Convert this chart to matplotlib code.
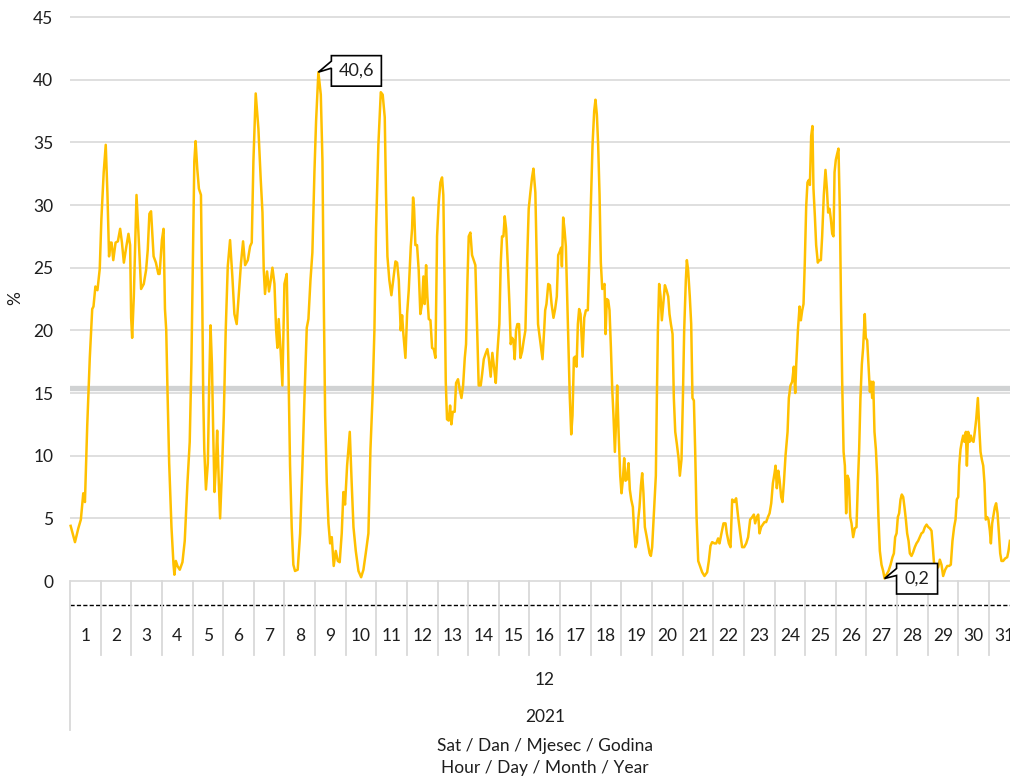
import matplotlib.pyplot as plt
from matplotlib.patches import Polygon
from matplotlib.transforms import IdentityTransform

plt.rcParams['font.family'] = ['Lato', 'DejaVu Sans']

# December 2021, hourly, x = hour of month (0..744), y = %
days = list(range(1, 32))
month = '12'
year = '2021'
axis_title_1 = 'Sat / Dan / Mjesec / Godina'
axis_title_2 = 'Hour / Day / Month / Year'
mean_pct = 15.4
max_point = (194.6, 40.6, '40,6')
min_point = (638.2, 0.2, '0,2')

hours_a = [0.5, 3.9, 6.5, 8.5, 10.4, 11.7, 13.5, 15.5, 17.4, 18.4,
           19.9, 21.5, 23.3, 24.6, 26.4, 28, 29.3, 30.6, 31.6, 32.6,
           33.9, 35.7, 37.5, 39.3, 40.7, 42.2, 44, 45.8, 47.1, 47.9,
           48.7, 50, 52.1, 53.6, 55.7, 57.8, 59.6, 60.9, 62.2, 63.5,
           65.5, 67.3, 69.2, 70.2, 72, 73.3, 74.4, 75.4, 76.4, 77.7,
           79.5, 81.1, 81.8, 82.9, 84.2, 86, 88.1, 89.9, 92, 93.8,
           95.1, 96.4, 97.4, 98.4, 99.7, 101, 102.6, 103.6, 104.4, 105.2,
           106.5, 108, 109.1, 110.1, 111.2, 112.2, 113.2, 114.3, 115.3, 116.6,
           117.6, 119.2, 120.5, 122]
pct_a = [4.4, 3.1, 4.2, 4.9, 7.0, 6.3, 12.4, 17.8, 21.7, 21.9,
         23.5, 23.2, 24.9, 28.9, 32.6, 34.8, 31.0, 25.9, 27.0, 27.0,
         25.6, 27.0, 27.1, 28.1, 27.0, 25.4, 26.6, 27.7, 26.8, 21.0,
         19.4, 22.7, 30.8, 27.8, 23.3, 23.7, 24.8, 26.4, 29.3, 29.5,
         25.9, 25.4, 24.5, 24.5, 27.2, 28.1, 21.7, 20.0, 15.1, 9.4,
         4.3, 1.3, 0.5, 1.6, 1.2, 0.9, 1.5, 3.2, 7.8, 11.1,
         17.3, 26.4, 33.5, 35.1, 32.9, 31.3, 30.8, 22.7, 14.6, 10.5,
         7.3, 9.4, 15.9, 20.4, 17.3, 11.9, 7.1, 9.2, 12.0, 7.8,
         5.0, 9.2, 13.2, 20.0]

hours_b = [123.6, 125.4, 127.2, 128.8, 130.6, 132.5, 134, 135.6, 137.2, 139.3,
           141.1, 142.4, 143.7, 145.5, 147.6, 149.4, 150.8, 151.8, 152.8, 154.4,
           155.9, 157.3, 158.6, 160.2, 161.5, 162.5, 163.5, 164.9, 166.4, 168,
           169.8, 171.1, 172.4, 173.7, 175, 176.3, 178.4, 180.3, 182.1, 183.7,
           185.5, 186.8, 188.4, 189.9, 191.5, 192.8, 194.6, 196.5, 197.8, 198.8,
           199.9, 201.2, 202.5, 203.8, 205.1, 206.6, 208.2, 209.8, 211.3, 212.9,
           214.2, 215.5, 217.1, 219.2, 220.7, 222.1, 223.9, 226, 228.1, 229.9,
           231.7, 233.8, 235.4, 237, 238.5, 239.8, 241.6, 243.5]
pct_b = [25.1, 27.2, 24.3, 21.3, 20.5, 23.2, 25.4, 27.1, 25.2, 25.6,
         26.7, 27.0, 33.5, 38.9, 36.1, 32.1, 29.4, 24.8, 22.9, 24.7,
         23.1, 24.0, 25.0, 23.7, 20.0, 18.6, 20.9, 18.6, 15.6, 23.7,
         24.5, 17.3, 9.2, 4.3, 1.3, 0.8, 0.9, 3.8, 9.2, 14.6,
         20.2, 20.9, 24.0, 26.2, 32.6, 36.7, 40.6, 38.8, 33.5, 22.7,
         13.2, 7.8, 4.6, 3.0, 3.5, 1.2, 2.4, 1.6, 1.5, 3.8,
         7.1, 6.1, 9.2, 11.9, 7.8, 4.3, 2.4, 0.8, 0.3, 0.9,
         2.2, 3.8, 10.5, 14.6, 20.0, 28.1, 34.8, 39.0]

hours_c = [245, 246.6, 247.6, 248.7, 250.2, 251.8, 253.6, 255, 256.3, 257.6,
           259.1, 260.2, 261.2, 262.8, 264.1, 265.4, 267, 268, 268.8, 269.6,
           270.6, 271.9, 273.2, 274.5, 275.8, 276.9, 277.9, 279, 280, 281.1,
           282.4, 283.7, 285, 286.3, 287.6, 288.9, 290.2, 291.5, 292.5, 293.6,
           294.4, 295.4, 296.7, 297.8, 298.8, 299.9, 301.4, 302.5, 304, 305.1,
           306.7, 308, 309.3, 310.3, 311.4, 312.4, 313.7, 315, 316.3, 317.6,
           319, 320.2, 321.8, 322.9, 324.2, 325.5, 327, 328.1, 329.6, 330.9,
           332.3, 333.6, 334.9, 336.4, 337.5, 338.5, 339.6, 340.6, 341.7, 343.2,
           344.3, 345.3, 346.4, 347.4, 348.4, 349.5, 350.5, 351.8, 352.9, 354.2,
           355.5, 356.8, 358.1, 359.4, 360.7, 362, 363.1, 364.6, 365.7, 366.7,
           368.3]
pct_c = [38.8, 37.0, 30.8, 25.9, 24.0, 22.8, 24.3, 25.5, 25.4, 24.0,
         20.0, 21.2, 19.7, 17.8, 21.3, 23.2, 26.7, 28.1, 30.6, 29.7,
         26.8, 26.8, 24.8, 21.3, 22.1, 24.3, 22.1, 25.2, 22.7, 20.9,
         20.8, 18.6, 18.5, 17.8, 27.5, 30.2, 31.8, 32.2, 30.8, 22.7,
         15.9, 12.9, 12.8, 14.0, 12.5, 13.5, 13.5, 15.8, 16.1, 15.4,
         14.6, 15.6, 17.8, 18.9, 24.0, 27.5, 27.8, 26.0, 25.6, 25.2,
         20.0, 15.6, 15.6, 16.5, 17.7, 18.1, 18.5, 17.8, 16.3, 18.2,
         17.0, 15.8, 18.3, 20.5, 25.4, 27.5, 27.5, 29.1, 28.1, 24.8,
         22.1, 18.9, 19.4, 19.2, 17.7, 20.0, 20.5, 20.5, 17.8, 18.3,
         19.2, 20.0, 25.4, 29.7, 31.0, 32.2, 32.9, 31.0, 25.4, 20.5,
         19.2]

hours_d = [370.2, 371.5, 372.3, 373.3, 374.7, 376, 377.3, 378.8, 380.1, 381.4,
           382.5, 383.8, 384.8, 385.4, 386.4, 387.4, 388.5, 389.5, 390.6, 391.6,
           392.7, 393.7, 394.8, 395.8, 396.9, 397.9, 398.9, 400, 401.6, 402.9,
           404.2, 405.7, 406.8, 408.1, 409.4, 410.7, 411.7, 412.8, 413.8, 414.9,
           415.9, 417, 418, 418.8, 419.6, 420.6, 421.7, 422.7, 423.8, 424.8,
           425.8, 426.9, 427.9, 428.7, 429.8, 431.1, 432.1, 433.2, 434.2, 435.2,
           436.3, 437.6, 438.6, 439.7, 441, 442, 443.1, 444.1, 445.2, 446.2,
           447.3, 448.3, 449.3, 450.4, 451.7, 452.7, 454.1, 455.1, 456.1, 456.9,
           458, 459, 459.8, 460.6, 461.6, 462.7, 463.7, 464.8, 466.1, 467.4,
           468.7, 469.7, 470.8, 472.1, 473.1, 474.2, 475.5, 476.8, 477.8, 479.1,
           480.2, 481.2, 482.5, 483.3, 484.3, 485.6, 486.7, 487.7, 488.8, 489.8,
           490.9, 492.2]
pct_d = [17.7, 20.0, 21.6, 22.1, 23.7, 23.6, 22.1, 21.0, 21.7, 22.7,
         26.0, 26.3, 26.6, 25.1, 29.0, 28.1, 26.7, 22.7, 18.6, 14.6,
         11.7, 13.2, 17.8, 17.9, 17.1, 20.5, 21.7, 21.3, 17.9, 21.0,
         21.6, 21.6, 25.4, 30.2, 34.8, 37.5, 38.4, 37.2, 34.8, 30.8,
         25.4, 23.3, 23.5, 23.7, 19.7, 22.5, 22.4, 21.6, 18.6, 15.4,
         13.2, 10.3, 12.9, 15.6, 11.9, 8.4, 7.0, 8.1, 9.8, 8.0,
         8.1, 9.4, 7.3, 6.5, 5.9, 4.0, 2.7, 3.1, 4.9, 5.9,
         7.6, 8.6, 7.0, 4.3, 3.6, 3.0, 2.2, 2.0, 2.7, 4.3,
         6.5, 8.4, 14.6, 20.0, 23.7, 22.7, 20.8, 22.1, 23.6, 23.2,
         22.7, 21.3, 20.5, 19.7, 14.6, 11.9, 10.9, 9.8, 8.4, 9.7,
         14.6, 20.0, 24.0, 25.6, 24.8, 22.7, 20.5, 14.6, 14.4, 10.5,
         5.1, 1.6]

hours_e = [495.3, 497.1, 499.2, 500.5, 501.8, 503.1, 505, 506.3, 507.8, 508.9,
           510.4, 512, 513.6, 514.6, 516.2, 517.5, 518.8, 520.4, 521.9, 523.5,
           525.1, 526.6, 528.2, 529.8, 531.3, 532.9, 534.5, 535.8, 536.8, 538.1,
           539.2, 540.2, 541.5, 542.8, 544.1, 545.4, 546.8, 548.1, 549.4, 550.7,
           552, 552.8, 553.8, 554.9, 555.9, 557.2, 558.2, 559.3, 560.6, 562.2,
           563.2, 564.5, 565.8, 567.1, 568.2, 569, 570.3, 571.6, 572.6, 573.7,
           574.7, 575.7, 576.8, 577.8, 578.9, 579.7, 580.7, 581.7, 582.5, 583.6,
           584.6, 585.9, 587, 588.3, 589.3, 590.6, 591.9, 593, 594, 595.1,
           596.1, 597.2, 598.2, 599, 600, 601.1, 602.1, 603.2, 604, 605,
           606.1, 607.1, 608.1, 609.2, 610.2, 611.3, 612.3]
pct_e = [0.7, 0.4, 0.7, 1.6, 2.8, 3.1, 3.0, 3.0, 3.4, 3.0,
         3.8, 4.6, 4.6, 3.8, 3.0, 2.7, 6.5, 6.3, 6.6, 5.1,
         3.8, 2.7, 2.7, 3.0, 3.5, 4.9, 5.1, 5.3, 4.6, 5.1,
         5.3, 3.8, 4.3, 4.5, 4.7, 4.7, 5.1, 5.4, 6.2, 7.8,
         8.6, 9.2, 7.4, 8.8, 8.1, 6.7, 6.3, 7.8, 10.0, 11.9,
         14.6, 15.6, 15.9, 17.1, 15.0, 17.3, 20.0, 21.9, 20.8, 21.6,
         22.1, 25.4, 29.9, 31.8, 32.0, 31.6, 35.5, 36.3, 31.3, 29.1,
         26.8, 25.4, 25.6, 25.6, 27.5, 30.8, 32.8, 31.3, 29.4, 29.7,
         28.9, 27.7, 27.5, 32.6, 33.6, 34.1, 34.5, 29.4, 22.7, 15.9,
         10.3, 9.2, 5.4, 8.4, 8.1, 5.1, 4.6]

hours_f = [613.6, 614.9, 616.2, 617.3, 618.3, 619.3, 620.4, 621.4, 622.7, 623.5,
           624.6, 625.6, 626.7, 627.7, 628.5, 629.3, 630.3, 631.4, 632.4, 633.4,
           634.5, 635.8, 637.1, 638.2, 639.7, 641.3, 642.9, 644.4, 645.5, 646.5,
           647.6, 648.6, 649.6, 650.7, 651.7, 652.8, 653.8, 654.9, 655.9, 657,
           658, 659.3, 660.6, 661.9, 663.2, 664.5, 665.8, 667.1, 668.4, 669.8,
           671.1, 672.4, 673.7, 675, 675.8, 676.8, 677.8, 680.2, 681.5, 682.8,
           684.1, 685.7, 687.3, 688.8, 690.1, 691.4, 692.7, 693.8, 694.8, 695.9,
           696.7, 697.7, 698.7, 699.8, 700.8, 701.9, 702.7, 703.7, 704.8, 705.8,
           706.8, 707.9, 708.9, 710, 711.3, 712.3, 713.4, 714.4, 715.5, 716.5,
           717.5, 718.6, 719.6, 720.7, 721.5, 722.5, 723.6, 724.6, 725.6, 726.7,
           727.8, 728.8, 729.8, 731.1, 732.7, 734.3, 735.3, 736.4]
pct_f = [3.5, 4.2, 4.3, 7.8, 10.5, 14.6, 17.3, 18.6, 21.3, 19.4,
         19.2, 17.3, 15.1, 15.9, 14.6, 15.9, 11.9, 10.5, 8.4, 5.1,
         2.4, 1.3, 0.8, 0.2, 0.5, 0.8, 1.3, 1.9, 2.2, 3.5,
         3.8, 5.1, 5.4, 6.5, 6.9, 6.7, 5.9, 4.9, 3.8, 3.2,
         2.2, 2.0, 2.3, 2.7, 3.0, 3.2, 3.5, 3.8, 3.9, 4.3,
         4.5, 4.3, 4.2, 4.0, 3.0, 1.6, 0.9, 1.1, 1.7, 1.3,
         0.4, 0.9, 1.2, 1.2, 1.3, 3.2, 4.3, 4.9, 6.5, 6.7,
         9.2, 10.5, 11.1, 11.6, 11.1, 11.9, 9.2, 11.9, 11.1, 11.6,
         11.2, 11.1, 11.9, 12.9, 14.6, 12.4, 10.3, 9.7, 9.2, 7.8,
         4.9, 5.1, 4.9, 4.0, 3.0, 4.6, 5.3, 5.9, 6.2, 5.4,
         3.8, 2.2, 1.6, 1.6, 1.8, 1.9, 2.4, 3.2]

hours = hours_a + hours_b + hours_c + hours_d + hours_e + hours_f
pct = pct_a + pct_b + pct_c + pct_d + pct_e + pct_f

text_col = '#1e1e1e'
grid_col = '#d9d9d9'
fs = 12.5

fig = plt.figure(figsize=(10.1, 7.8), dpi=100)
# plot area runs a bit past the right edge of the picture, like the original
ax = fig.add_axes([70 / 1010, 199 / 780, 949.6 / 1010, 564 / 780])
ax.set_xlim(0, 744)
ax.set_ylim(0, 45)
for s in ax.spines.values():
    s.set_visible(False)

yt = list(range(0, 46, 5))
ax.hlines(yt, 0, 744, color=grid_col, lw=1.2, zorder=1, clip_on=False)
ax.axhline(mean_pct, color='#d0d2d3', lw=3.8, zorder=2)
ax.plot(hours, pct, color='#ffc000', lw=1.8, zorder=3, clip_on=False)

ax.set_yticks(yt)
ax.set_yticklabels([str(t) for t in yt])
ax.tick_params(axis='y', length=0, pad=12, labelsize=fs, labelcolor=text_col)
ax.set_xticks([])
fig.text(15 / 1010, 1 - 298 / 780, '%', rotation=90, ha='center', va='center',
         fontsize=fs, color=text_col)

# multi-level category axis below the plot
tr = ax.get_xaxis_transform()
ax.plot([0, 744], [-0.0426, -0.0426], transform=tr, clip_on=False,
        color='black', lw=1, dashes=(3, 1.6))
for k in range(32):
    y_end = -0.264 if k == 0 else -0.131
    ax.plot([24 * k, 24 * k], [0, y_end], transform=tr, clip_on=False,
            color=grid_col, lw=1.3)
for d in days:
    ax.text(24 * (d - 1) + 12, -0.0975, str(d), transform=tr, ha='center',
            va='center', fontsize=fs, color=text_col)
ax.text(372, -0.1755, month, transform=tr, ha='center', va='center',
        fontsize=fs, color=text_col)
ax.text(372, -0.241, year, transform=tr, ha='center', va='center',
        fontsize=fs, color=text_col)
ax.text(372, -0.293, axis_title_1, transform=tr, ha='center', va='center',
        fontsize=fs, color=text_col)
ax.text(372, -0.332, axis_title_2, transform=tr, ha='center', va='center',
        fontsize=fs, color=text_col)


def callout(h, v, label, left, right, top, bottom, t1, t2):
    px, py = ax.transData.transform((h, v))
    pts = [(left, t1), (left, top), (right, top), (right, bottom),
           (left, bottom), (left, t2), (0, 0)]
    poly = Polygon([(px + a, py + b) for a, b in pts], closed=True,
                   facecolor='white', edgecolor='black', lw=1.2,
                   transform=IdentityTransform(), zorder=5, clip_on=False)
    ax.add_patch(poly)
    ax.annotate(label, xy=(h, v), xytext=((left + right) / 2, (top + bottom) / 2),
                textcoords='offset pixels', ha='center', va='center',
                fontsize=13, color=text_col, zorder=6, annotation_clip=False)


callout(max_point[0], max_point[1], max_point[2], 13, 63, 16.5, -14, 11, 4)
callout(min_point[0], min_point[1], min_point[2], 12, 53, 15, -15.5, 10, 3)

fig.savefig('out.png', dpi=100)
